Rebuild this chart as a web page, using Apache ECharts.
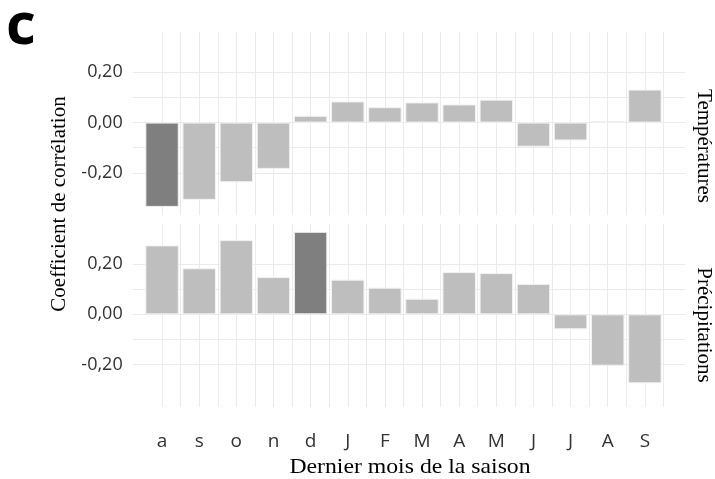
<!DOCTYPE html>
<html>
<head>
<meta charset="utf-8">
<script src="https://cdn.jsdelivr.net/npm/echarts@6/dist/echarts.min.js"></script>
<style>
  html, body { margin: 0; padding: 0; background: #ffffff; }
  #chart { width: 715px; height: 479px; }
</style>
</head>
<body>
<div id="chart"></div>
<script>
// Last month of the season (Aug .. Sep of the following year)
const months = ['a', 's', 'o', 'n', 'd', 'J', 'F', 'M', 'A', 'M', 'J', 'J', 'A', 'S'];

// Correlation coefficients per panel
const temperatures = [-0.335, -0.307, -0.237, -0.184, 0.027, 0.084, 0.061, 0.080, 0.072, 0.091, -0.096, -0.071, 0.006, 0.131];
const precipitations = [0.274, 0.183, 0.295, 0.148, 0.328, 0.138, 0.106, 0.062, 0.168, 0.164, 0.121, -0.059, -0.204, -0.274];

// Highlighted season in each panel
const tempHighlight = 0;
const precipHighlight = 4;

// Tick positions
const yLabelTicks = [-0.2, 0, 0.2];
const yGridTicks = [-0.3, -0.2, -0.1, 0, 0.1, 0.2, 0.3];
const xLabelTicks = [1, 2, 3, 4, 5, 6, 7, 8, 9, 10, 11, 12, 13, 14];
const xGridTicks = [0.5, 1, 1.5, 2, 2.5, 3, 3.5, 4, 4.5, 5, 5.5, 6, 6.5, 7, 7.5, 8, 8.5, 9, 9.5, 10, 10.5, 11, 11.5, 12, 12.5, 13, 13.5, 14, 14.5, 15];

const Y_MIN = -0.368, Y_MAX = 0.361;
const X_MIN = 0.21, X_MAX = 15.08;

const LIGHT = '#bebebe';
const DARK = '#7f7f7f';
const GRID = '#ebebeb';
const SANS = '"Open Sans", "Noto Sans", sans-serif';
const SERIF = '"Liberation Serif", "DejaVu Serif", serif';

function barData(values, hi) {
  return values.map((v, i) => ({
    value: [i + 1, v],
    itemStyle: { color: i === hi ? DARK : LIGHT }
  }));
}

function fmt(v) {
  return v.toFixed(2).replace('.', ',');
}

function xAxis(gridIndex, showLabels) {
  return {
    type: 'value', gridIndex: gridIndex, min: X_MIN, max: X_MAX,
    axisLine: { show: false },
    axisTick: { show: false, customValues: xGridTicks },
    splitLine: { show: true, showMinLine: false, showMaxLine: false, lineStyle: { color: GRID, width: 1 } },
    axisLabel: {
      show: showLabels, customValues: xLabelTicks, margin: 25,
      fontFamily: SANS, fontSize: 19, color: '#333333',
      formatter: v => months[Math.round(v) - 1] || ''
    }
  };
}

function yAxis(gridIndex) {
  return {
    type: 'value', gridIndex: gridIndex, min: Y_MIN, max: Y_MAX,
    axisLine: { show: false },
    axisTick: { show: false, customValues: yGridTicks },
    splitLine: { show: true, showMinLine: false, showMaxLine: false, lineStyle: { color: GRID, width: 1 } },
    axisLabel: {
      customValues: yLabelTicks, margin: 10,
      fontFamily: SANS, fontSize: 18, color: '#333333',
      formatter: fmt
    }
  };
}

const chart = echarts.init(document.getElementById('chart'), null, { renderer: 'canvas' });

chart.setOption({
  backgroundColor: '#ffffff',
  animation: false,
  grid: [
    { left: 132.7, right: 30, top: 31.7, height: 183.5 },
    { left: 132.7, right: 30, top: 223.5, height: 183.5 }
  ],
  xAxis: [xAxis(0, false), xAxis(1, true)],
  yAxis: [yAxis(0), yAxis(1)],
  series: [
    {
      type: 'bar', xAxisIndex: 0, yAxisIndex: 0, barWidth: '90%',
      data: barData(temperatures, tempHighlight),
      itemStyle: { borderColor: '#f2f2f2', borderWidth: 1 }
    },
    {
      type: 'bar', xAxisIndex: 1, yAxisIndex: 1, barWidth: '90%',
      data: barData(precipitations, precipHighlight),
      itemStyle: { borderColor: '#f2f2f2', borderWidth: 1 }
    }
  ],
  graphic: [
    {
      type: 'text', left: 6, top: -2,
      style: { text: 'c', font: 'bold 58px ' + SANS, fill: '#000000' }
    },
    {
      type: 'text', x: 59, y: 204, rotation: Math.PI / 2,
      style: { text: 'Coefficient de corrélation', font: '21px ' + SERIF, fill: '#000000', align: 'center', verticalAlign: 'middle' }
    },
    {
      type: 'text', x: 410, y: 467, scaleX: 1.13,
      style: { text: 'Dernier mois de la saison', font: '21px ' + SERIF, fill: '#000000', align: 'center', verticalAlign: 'middle' }
    },
    {
      type: 'text', x: 704, y: 146, rotation: -Math.PI / 2,
      style: { text: 'Températures', font: '21px ' + SERIF, fill: '#000000', align: 'center', verticalAlign: 'middle' }
    },
    {
      type: 'text', x: 704, y: 325, rotation: -Math.PI / 2,
      style: { text: 'Précipitations', font: '21px ' + SERIF, fill: '#000000', align: 'center', verticalAlign: 'middle' }
    }
  ]
});
</script>
</body>
</html>
